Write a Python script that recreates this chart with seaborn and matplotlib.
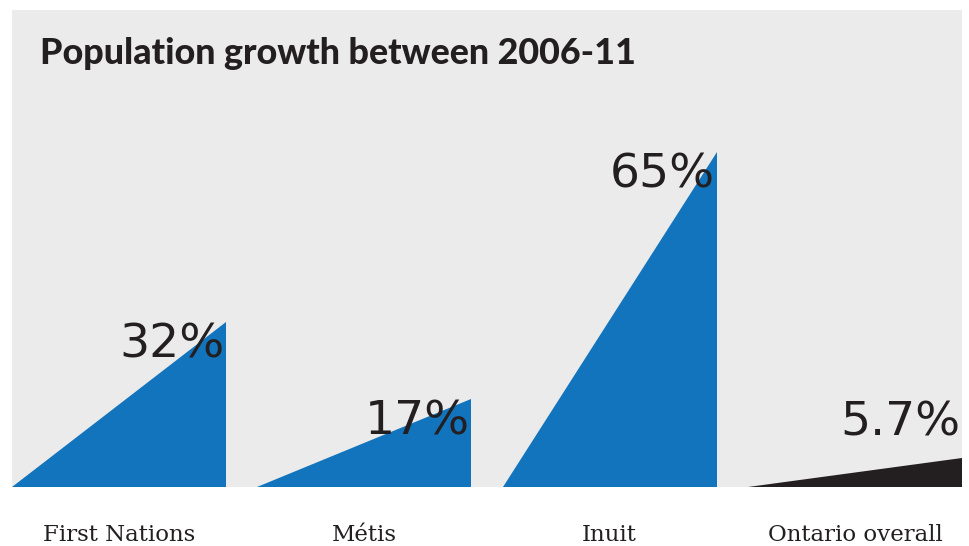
import matplotlib
matplotlib.use('Agg')
import matplotlib.pyplot as plt
import seaborn as sns

categories = ['First Nations', 'Métis', 'Inuit', 'Ontario overall']
growth = [32, 17, 65, 5.7]
value_labels = ['32%', '17%', '65%', '5.7%']
colors = ['#1174bd', '#1174bd', '#1174bd', '#231f20']

sns.set_style('white')
plt.rcParams['font.family'] = ['DejaVu Sans']

fig = plt.figure(figsize=(9.69, 5.46), dpi=100)
ax = fig.add_axes([12 / 969, 59 / 546, 950 / 969, 477 / 546])
ax.set_facecolor('#ebebeb')

tri_w = 0.872
for i, (v, c) in enumerate(zip(growth, colors)):
    x0 = i
    x1 = i + tri_w
    ax.fill([x0, x1, x1], [0, 0, v], color=c, lw=0)
    if v < 10:
        # small value: label sits above the tip
        ax.annotate(value_labels[i], (x1, v), xytext=(-1, 9), textcoords='offset points',
                    ha='right', va='bottom', fontsize=34, family='DejaVu Sans',
                    color='#231f20')
    else:
        ax.annotate(value_labels[i], (x1, v), xytext=(-1, 0), textcoords='offset points',
                    ha='right', va='top', fontsize=34, family='DejaVu Sans',
                    color='#231f20')
    ax.text(x0 + tri_w / 2, -9.4, categories[i], ha='center', va='center',
            fontsize=16.5, family='DejaVu Serif', color='#231f20')

ax.set_xlim(0, 3 + tri_w)
ax.set_ylim(0, 477 / 5.15)
ax.set_xticks([])
ax.set_yticks([])
for s in ax.spines.values():
    s.set_visible(False)

ax.text(28 / 950, (487 - 53) / 477, 'Population growth between 2006-11', transform=ax.transAxes,
        ha='left', va='center', fontsize=25.8, family='Lato', weight='black', color='#231f20')

fig.savefig('out.png', dpi=100, facecolor='white')
